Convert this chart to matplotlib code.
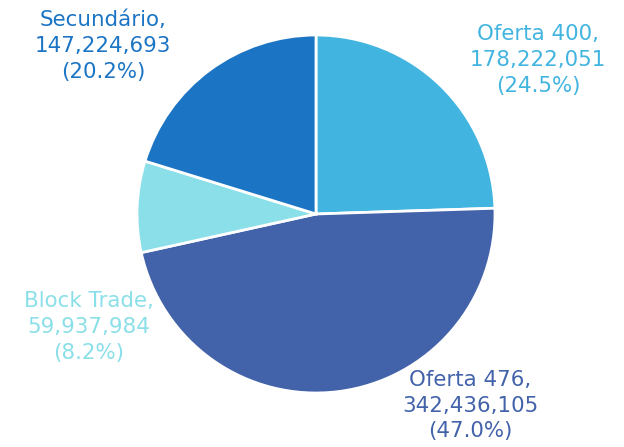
import matplotlib
matplotlib.use("Agg")
import matplotlib.pyplot as plt

categories = ["Oferta 400", "Oferta 476", "Block Trade", "Secundário"]
values = [178222051, 342436105, 59937984, 147224693]
colors = ["#41B4E0", "#4262AA", "#8ADFE8", "#1C75C4"]
label_pos = [(1.24, 0.86), (0.86, -1.07), (-1.27, -0.63), (-1.19, 0.94)]

fig = plt.figure(figsize=(6.24, 4.47), dpi=100)
cx, cy = 316 / 624, (447 - 214) / 447
rx, ry = 179 / 624, 179 / 447
ax = fig.add_axes([cx - rx, cy - ry, 2 * rx, 2 * ry])
ax.pie(values, colors=colors, startangle=90, counterclock=False, radius=1.0,
       wedgeprops=dict(edgecolor="white", linewidth=2))
ax.set_xlim(-1, 1)
ax.set_ylim(-1, 1)
ax.set_aspect("equal")
ax.axis("off")

total = sum(values)
for cat, v, c, (x, y) in zip(categories, values, colors, label_pos):
    txt = f"{cat},\n{v:,}\n({v / total * 100:.1f}%)"
    ax.text(x, y, txt, color=c, ha="center", va="center", fontsize=15.4,
            family="DejaVu Sans", linespacing=1.36, clip_on=False)

fig.savefig("out.png", dpi=100)
